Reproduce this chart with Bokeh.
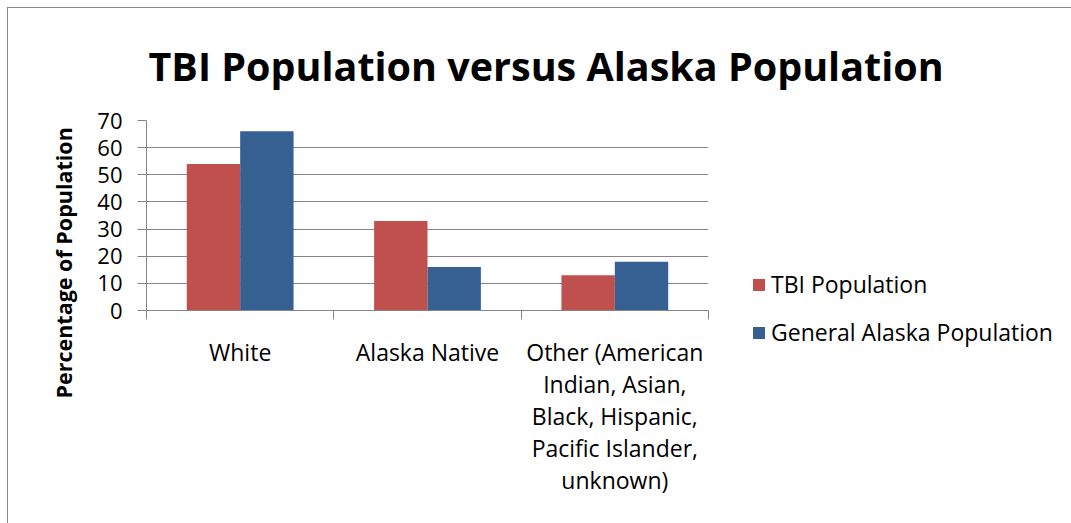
from bokeh.plotting import figure
from bokeh.models import (Range1d, LinearAxis, FixedTicker,
                          Legend, LegendItem, ColumnDataSource, Title)
from bokeh.transform import dodge
from bokeh.embed import file_html
from bokeh.resources import INLINE

# ---- data ----
categories = ["White", "Alaska Native",
              "Other (American\nIndian, Asian,\nBlack, Hispanic,\nPacific Islander,\nunknown)"]
tbi_population = [54, 33, 13]
general_population = [66, 16, 18]
series_names = ["TBI Population", "General Alaska Population"]
y_ticks = [0, 10, 20, 30, 40, 50, 60, 70]
title_text = "TBI Population versus Alaska Population"
y_label = "Percentage of Population"

FONT = "Open Sans"
GRAY = "#868686"
RED = "#C0504D"
BLUE = "#376092"

n = len(categories)
centers = [i + 0.5 for i in range(n)]
source = ColumnDataSource(dict(x=centers, cat=categories, tbi=tbi_population, gen=general_population))

p = figure(x_range=Range1d(0, n), y_range=Range1d(0, 70),
           frame_width=562, frame_height=190, output_backend="svg", toolbar_location=None,
           x_axis_location=None, y_axis_location=None,
           min_border_left=138, min_border_right=362, min_border_top=111, min_border_bottom=213)
p.outline_line_color = None
p.background_fill_color = "white"
p.border_fill_color = "white"
p.styles = {"margin-left": "7px", "margin-top": "7px",
            "border-left": "1px solid #898989", "border-top": "1px solid #898989"}

# grid
p.xgrid.visible = False
p.ygrid.ticker = FixedTicker(ticks=y_ticks)
p.ygrid.grid_line_color = GRAY
p.ygrid.grid_line_width = 1

# bars
bw = 0.285
r1 = p.vbar(x=dodge("x", -bw / 2), top="tbi", width=bw, source=source,
            fill_color=RED, line_color=None)
r2 = p.vbar(x=dodge("x", bw / 2), top="gen", width=bw, source=source,
            fill_color=BLUE, line_color=None)

# y axis
yax = LinearAxis(ticker=FixedTicker(ticks=y_ticks), axis_line_color=GRAY, major_tick_line_color=GRAY,
                 major_tick_in=0, major_tick_out=9, minor_tick_line_color=None,
                 major_label_text_font=FONT, major_label_text_font_size="22px",
                 major_label_text_color="black", major_label_standoff=15)
p.add_layout(yax, "left")

# x tick axis (category boundaries)
tick_ax = LinearAxis(ticker=FixedTicker(ticks=list(range(n + 1))),
                     axis_line_color=GRAY, major_tick_line_color=GRAY, major_tick_in=0, major_tick_out=9,
                     minor_tick_line_color=None, major_label_text_font_size="0px",
                     major_label_standoff=0)
p.add_layout(tick_ax, "below")

# category label axis
cat_ax = LinearAxis(ticker=FixedTicker(ticks=centers),
                    major_label_overrides={c: lab for c, lab in zip(centers, categories)},
                    axis_line_color=None, major_tick_line_color=None, minor_tick_line_color=None,
                    major_label_text_font=FONT, major_label_text_font_size="23px",
                    major_label_text_color="black", major_label_standoff=10,
                    major_label_text_line_height=1.0)
p.add_layout(cat_ax, "below")

# title
p.add_layout(Title(text=title_text, align="left", offset=2, standoff=56,
                   text_font=FONT, text_font_size="39.5px", text_font_style="bold",
                   text_color="black"), "above")

# y axis label (as a side title so it can sit lower than the frame centre)
p.add_layout(Title(text=y_label, align="left", offset=-88, standoff=33,
                   text_font=FONT, text_font_size="21.5px", text_font_style="bold",
                   text_color="black"), "left")

# legend
legend = Legend(items=[LegendItem(label=series_names[0], renderers=[r1]),
                       LegendItem(label=series_names[1], renderers=[r2])],
                location=(43, -38), orientation="vertical",
                glyph_width=15, glyph_height=15, label_standoff=5, spacing=16,
                padding=0, margin=0, border_line_color=None, background_fill_alpha=0,
                label_text_font=FONT, label_text_font_size="23px", label_text_color="black")
p.add_layout(legend, "right")

open("out.html", "w").write(file_html(p, INLINE))
